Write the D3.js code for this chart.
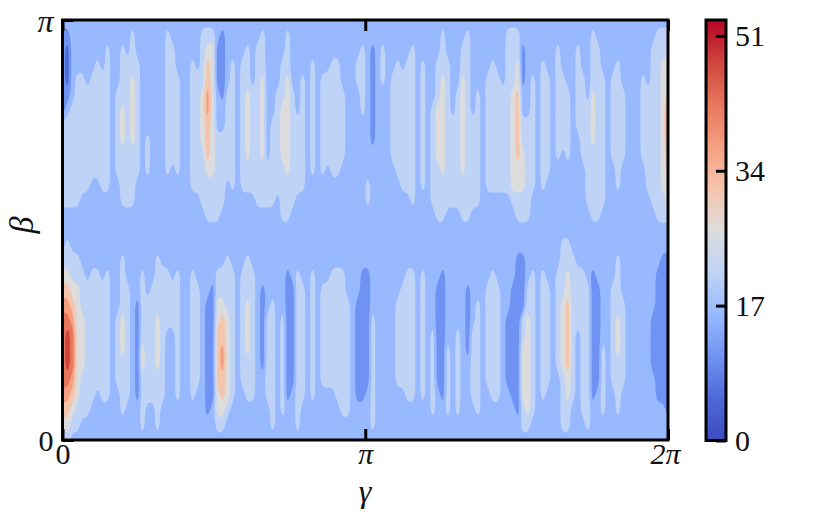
<!DOCTYPE html>
<html>
<head>
<meta charset="utf-8">
<script src="https://cdn.jsdelivr.net/npm/d3@7/dist/d3.min.js"></script>
<style>
html,body{margin:0;padding:0;background:#fff;}
text{font-family:"Liberation Serif",serif;fill:#111;}
</style>
</head>
<body>
<svg id="chart" width="829" height="512"></svg>
<script>
// Band index (0-10), one string per gamma column, beta from pi downward.
const upperHalf = [
"32222224444443","32111234444443","33333344444443","33334444444443","33334444444433","33333444444433",
"33334444444333","33344444444333","33334444444433","33444444444433","33333333333333","33333444444333",
"33444455544443","33344444444443","34445555544443","33344444444333","33333333333333","33333333444333",
"33333333333333","33333333333333","33333333333333","34444444444333","33444444443333","33334444444333",
"33333333333333","33333333333333","33344444444433","33334444444433","34444555544443","34566776665444",
"34555555555444","33222333444444","32222233444443","33333444444333","33344444444433","33333333333333",
"33344444444433","33444555554433","33333444444433","33444444444443","34445555554443","33333333334443",
"33333334444443","33333444444433","33344455554444","34445555555444","33333444444443","33333334444433",
"33334444444433","33333333333333","33344444444333","33333333333333","33334444444333","33334444443333",
"33344444444333","33344444444333","33333444443333","33333333333333","33333333333333","33344333333333",
"33444443333333","33333333333443","33222222233333","33333333333333","33444333333333","33333333333333",
"33334444443333","33344444444333","33334444444433","33344444444433","33444444444443","33333333333333",
"33344444444433","33333333333333","33333344444443","33344455554444","34445555555444","33344444444443",
"33333334444443","33333444444443","33445555555444","34444444444444","33333334444443","33333444444443",
"33333333333333","33334444444433","33344444444433","33334444444433","33333444444433","34444444444433",
"34444555555543","34455666665544","33222334455544","33333334444444","33334444444433","33333333333333",
"33344444444433","33334444444333","33333333333333","33444444443333","33334444433333","33333444443333",
"33333333333333","33444444333333","33334444443333","33333344444443","34444555544444","33444444444444",
"33334444444443","33333333333333","33334444443333","33344444444433","33333444443333","33333333333333",
"33333333333333","33333333333333","33334444443333","33333444444433","33444444444443","34444444444444",
"34455555555544","34455677766554"
];
const seamLevel = "3";
const lowerHalf = [
"34567888887654","44567899987654","34456788876543","34455555555443","33444555544433","33344444444433",
"33444444444333","33444444443333","33344444444333","33444444444333","33333333333333","33333444443333",
"34444555444433","33344444444333","33333333333333","33332222222333","33444445544443","33334444444333",
"33344444444333","34444555544443","33444444444333","33444433333333","33344433333333","33444444444333",
"33333333333333","33333333333333","33444444444333","33344444443333","33333333333333","33332222222233",
"33322222222333","33445566665543","33445667766543","34444555555433","33444444444333","33333333333333",
"33444444443333","34445555444333","33444444444333","33333333333333","33322222233333","33333444444333",
"33334444444443","33333333333333","33333444444433","33222222222333","33322222223333","33444444444443",
"33344444444333","33333333333333","33444444444333","33333333333333","33344444443333","33344444443333",
"33444444443333","33444444444333","33444444444433","33334444444433","33333333333333","33332222222333",
"33222222222333","33222222223333","33333444444443","33333333333333","33333333333333","33333333333333",
"33333333333333","33334444443333","33344444443333","33444444444333","33444444444333","33333333333333",
"33444444444333","33333333333333","33333344444433","33322222223333","33222222222333","33333334444433",
"33333333333333","33333344444433","33333333333333","33322222333333","33333344444333","33334444444433",
"33333333333333","33344444443333","33444444444333","33344444444333","33333333333333","33333222223333",
"33322222222333","32222222222233","32222445555443","33344555555543","33444444444433","33333333333333",
"33444444444333","33344444443333","33333333333333","33444444433333","44445555544443","44556666655443",
"34444444444333","33444433333333","33444444444433","33344444444443","33222222222333","33322222223333",
"33333334444433","33333333333333","33344444443333","34444555444433","33334444443333","33333333333333",
"33333333333333","33333333333333","33333333333333","33333333333333","33333222233333","33222222222333",
"32222222222333","32222222222233"
];
const bandColors = ["#3b4cc0","#4f69d9","#7093f3","#98b9ff","#bfd3f6","#dddcdc","#f5c4ac","#f59f80","#e8765c","#cf453c","#b40426"];
const bandLevels = [1,2,3,4,5,6,7,8,9];
const xTickValues = [0, Math.PI, 2*Math.PI];
const xTickLabels = ["0","π","2π"];
const yTickValues = [0, Math.PI];
const yTickLabels = ["0","π"];
const barTicks = [0,17,34,51];
const barMax = 53;

const svg = d3.select("#chart");
const x = d3.scaleLinear([0, 2*Math.PI], [62.5, 668]);
const y = d3.scaleLinear([0, Math.PI], [440, 20]);

const columns = upperHalf.map((u,i)=>u+seamLevel+lowerHalf[i]);
const nCols = columns.length, nRows = columns[0].length;
const pad = 3;
const W = nCols+2*pad, H = nRows+2*pad;
const values = new Array(W*H);
for(let j=0;j<H;j++){
  const r = Math.max(0,Math.min(nRows-1,j-pad));
  for(let i=0;i<W;i++){
    const c = Math.max(0,Math.min(nCols-1,i-pad));
    values[j*W+i] = +columns[c][r];
  }
}
const gridX = d3.scaleLinear([0.5+pad,0.5+pad+nCols-1],[0,2*Math.PI]);
const gridY = d3.scaleLinear([0.5+pad,0.5+pad+nRows-1],[Math.PI,0]);

svg.append("defs").append("clipPath").attr("id","plot")
  .append("rect").attr("x",x(0)).attr("y",y(Math.PI)).attr("width",x(2*Math.PI)-x(0)).attr("height",y(0)-y(Math.PI));

const contours = d3.contours().size([W,H]).thresholds(bandLevels.map(d=>d-0.5))(values);
const ringLine = d3.line().x(p=>x(gridX(p[0]))).y(p=>y(gridY(p[1]))).curve(d3.curveBasisClosed);
const ringPath = g => g.coordinates.flatMap(poly=>poly.map(ring=>ringLine(ring.slice(0,-1)))).join("");

svg.append("g").attr("clip-path","url(#plot)")
  .selectAll("path").data(contours).join("path")
  .attr("d",ringPath)
  .attr("fill-rule","evenodd")
  .attr("fill",(d,i)=>bandColors[bandLevels[i]]);

function styleAxis(g){
  g.selectAll(".domain").remove();
  g.selectAll(".tick line").attr("stroke","#000").attr("stroke-width",3);
}
svg.append("g").attr("transform",`translate(0,${y(0)})`)
  .call(d3.axisBottom(x).tickValues(xTickValues).tickFormat((d,i)=>xTickLabels[i]).tickSizeInner(-11).tickPadding(21))
  .call(styleAxis)
  .selectAll("text").attr("font-size",(d,i)=>i?30:30).attr("font-style",(d,i)=>i?"italic":"normal").attr("fill","#111").attr("font-family","Liberation Serif").attr("dy","0.1em")
  .attr("dx",(d,i)=>i===2?-3:0);
svg.append("g").attr("transform",`translate(0,${y(Math.PI)})`)
  .call(d3.axisTop(x).tickValues(xTickValues).tickFormat("").tickSizeInner(-11))
  .call(styleAxis);
svg.append("g").attr("transform",`translate(${x(0)},0)`)
  .call(d3.axisLeft(y).tickValues(yTickValues).tickFormat((d,i)=>yTickLabels[i]).tickSizeInner(-11).tickPadding(9))
  .call(styleAxis)
  .selectAll("text").attr("font-size",(d,i)=>i?32:30).attr("font-style",(d,i)=>i?"italic":"normal").attr("fill","#111").attr("font-family","Liberation Serif")
  .attr("dy","0.35em");

svg.append("rect").attr("x",x(0)).attr("y",y(Math.PI)).attr("width",x(2*Math.PI)-x(0)).attr("height",y(0)-y(Math.PI))
  .attr("fill","none").attr("stroke","#000").attr("stroke-width",3);

svg.append("text").attr("x",365).attr("y",502).attr("text-anchor","middle").attr("font-size",32).attr("font-style","italic").text("γ");
svg.append("text").attr("transform","translate(33,225) rotate(-90)").attr("text-anchor","middle").attr("font-size",34).attr("font-style","italic").text("β");

// colour bar
const barX0 = 706, barX1 = 726;
const barY = d3.scaleLinear([0,barMax],[440.5,20]);
const grad = svg.select("defs").append("linearGradient").attr("id","cb").attr("x1",0).attr("x2",0).attr("y1",1).attr("y2",0);
grad.selectAll("stop").data(bandColors).join("stop")
  .attr("offset",(d,i)=>i/(bandColors.length-1)).attr("stop-color",d=>d);
svg.append("rect").attr("x",barX0).attr("y",barY(barMax)).attr("width",barX1-barX0).attr("height",barY(0)-barY(barMax))
  .attr("fill","url(#cb)").attr("stroke","#000").attr("stroke-width",3);
svg.append("g").attr("transform",`translate(${barX1},0)`)
  .call(d3.axisRight(barY).tickValues(barTicks).tickFormat(d3.format("d")).tickSizeInner(-10).tickPadding(9))
  .call(styleAxis)
  .selectAll("text").attr("font-size",30).attr("fill","#111").attr("font-family","Liberation Serif").attr("dy","0.33em");
</script>
</body>
</html>
